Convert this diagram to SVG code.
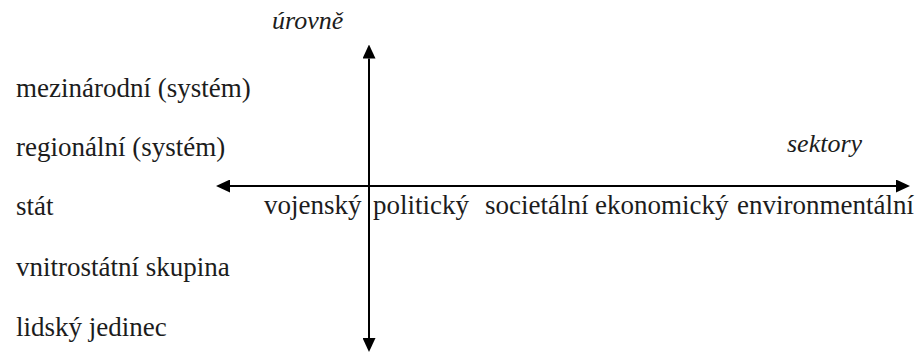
<svg xmlns="http://www.w3.org/2000/svg" width="922" height="352" viewBox="0 0 922 352">
  <style>
    .lbl { font-family: "Liberation Serif", "Times New Roman", serif; font-size: 27px; fill: #1c1c1c; }
    .ax { font-family: "Liberation Serif", "Times New Roman", serif; font-size: 26px; font-style: italic; fill: #1c1c1c; }
    .axis { stroke: #000; stroke-width: 2; fill: none; }
  </style>
  <defs>
    <marker id="arr" markerUnits="userSpaceOnUse" markerWidth="14" markerHeight="13" refX="0" refY="6.5" orient="auto-start-reverse" viewBox="0 0 14 13">
      <path d="M0,0 L14,6.5 L0,13 z" fill="#000"/>
    </marker>
  </defs>
  <rect width="922" height="352" fill="#fff"/>
  <g id="connectors">
    <path id="axis-levels" class="axis" d="M369 58.5 L369 338" marker-start="url(#arr)" marker-end="url(#arr)"/>
    <path id="axis-sectors" class="axis" d="M230 186 L896 186" marker-start="url(#arr)" marker-end="url(#arr)"/>
  </g>
  <g id="title-levels"><text class="ax" x="272" y="29">úrovně</text></g>
  <g id="title-sectors"><text class="ax" x="787" y="152">sektory</text></g>
  <g id="level-international"><text class="lbl" x="16" y="97">mezinárodní (systém)</text></g>
  <g id="level-regional"><text class="lbl" x="16" y="156">regionální (systém)</text></g>
  <g id="level-state"><text class="lbl" x="16" y="215">stát</text></g>
  <g id="level-substate"><text class="lbl" x="16" y="276">vnitrostátní skupina</text></g>
  <g id="level-individual"><text class="lbl" x="16" y="336">lidský jedinec</text></g>
  <g id="sector-military"><text class="lbl" x="264" y="214">vojenský</text></g>
  <g id="sector-political"><text class="lbl" x="373" y="214">politický</text></g>
  <g id="sector-societal"><text class="lbl" x="485" y="214">societální</text></g>
  <g id="sector-economic"><text class="lbl" x="595" y="214">ekonomický</text></g>
  <g id="sector-environmental"><text class="lbl" x="737" y="214">environmentální</text></g>
</svg>
